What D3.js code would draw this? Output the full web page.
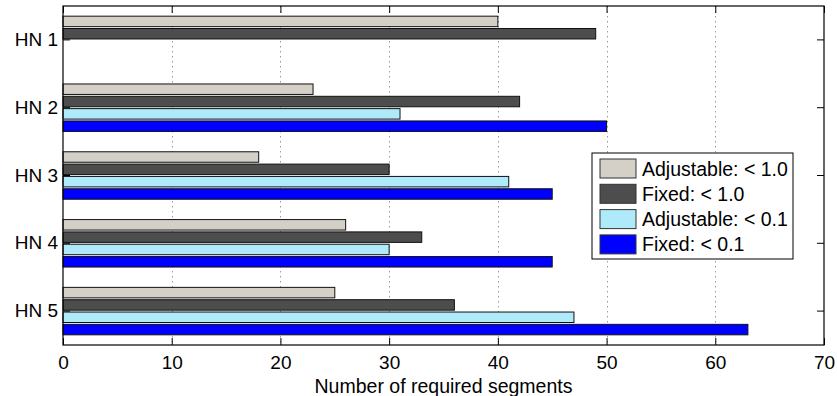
<!DOCTYPE html>
<html>
<head>
<meta charset="utf-8">
<script src="https://cdn.jsdelivr.net/npm/d3@7"></script>
<style>
  body { margin: 0; background: #fff; }
  svg { display: block; font-family: "Liberation Sans", Arial, sans-serif; }
</style>
</head>
<body>
<svg id="chart" width="837" height="396"></svg>
<script>
// data
var groups = ["HN 1", "HN 2", "HN 3", "HN 4", "HN 5"];
var seriesNames = ["Adjustable: < 1.0", "Fixed: < 1.0", "Adjustable: < 0.1", "Fixed: < 0.1"];
var adjustable10 = [40, 23, 18, 26, 25];
var fixed10 = [49, 42, 30, 33, 36];
var adjustable01 = [0, 31, 41, 30, 47];
var fixed01 = [0, 50, 45, 45, 63];
var xTicks = [0, 10, 20, 30, 40, 50, 60, 70];

var colors = ["#d4d0c8", "#4d4d4d", "#aeeafa", "#0000ff"];
var allSeries = [adjustable10, fixed10, adjustable01, fixed01];

var draw = function() {
    var svg = d3.select("#chart");
    var pLeft = 63, pRight = 824, pTop = 6, pBottom = 345;
    var tickLen = 7;

    var x = d3.scaleLinear().domain([0, 70]).range([pLeft, pRight]);
    var y = d3.scaleBand().domain(groups).range([pTop, pBottom]).paddingInner(0.3).paddingOuter(0.15);
    var inner = d3.scaleBand().domain(d3.range(4)).range([0, y.bandwidth()]).paddingInner(0.15);

    // grid
    svg.append("g").selectAll("line")
        .data(xTicks.slice(1, -1))
        .enter().append("line")
        .attr("x1", function(d) { return Math.round(x(d)) + 0.5; })
        .attr("x2", function(d) { return Math.round(x(d)) + 0.5; })
        .attr("y1", pTop).attr("y2", pBottom)
        .attr("stroke", "#9a9a9a")
        .attr("stroke-width", 1)
        .attr("stroke-dasharray", "1.5,3.5");

    // bars
    var rows = [];
    groups.forEach(function(g, i) {
        allSeries.forEach(function(s, j) {
            rows.push({ group: g, series: j, value: s[i] });
        });
    });

    svg.append("g").selectAll("rect")
        .data(rows)
        .enter().append("rect")
        .attr("x", x(0))
        .attr("y", function(d) { return y(d.group) + inner(d.series); })
        .attr("width", function(d) { return x(d.value) - x(0); })
        .attr("height", inner.bandwidth())
        .attr("fill", function(d) { return colors[d.series]; })
        .attr("stroke", "#111")
        .attr("stroke-width", 1);

    // axes box with inward ticks
    var bottomAxis = d3.axisBottom(x).tickValues(xTicks).tickSize(-tickLen).tickPadding(11);
    var topAxis = d3.axisTop(x).tickValues(xTicks).tickSize(-tickLen).tickFormat("");
    var leftAxis = d3.axisLeft(y).tickSize(-tickLen).tickPadding(5);
    var rightAxis = d3.axisRight(y).tickSize(-tickLen).tickFormat("");

    var styleAxis = function(g) {
        g.select(".domain").remove();
        g.selectAll(".tick line").attr("stroke", "#000");
        g.selectAll("text").attr("fill", "#000")
            .style("font-family", "'Liberation Sans', Arial, sans-serif")
            .style("font-size", "19px");
    };

    svg.append("g").attr("transform", "translate(0," + pBottom + ")").call(bottomAxis).call(styleAxis);
    svg.append("g").attr("transform", "translate(0," + pTop + ")").call(topAxis).call(styleAxis);
    svg.append("g").attr("transform", "translate(" + pLeft + ",0)").call(leftAxis).call(styleAxis);
    svg.append("g").attr("transform", "translate(" + pRight + ",0)").call(rightAxis).call(styleAxis);

    svg.append("rect")
        .attr("x", pLeft).attr("y", pTop)
        .attr("width", pRight - pLeft).attr("height", pBottom - pTop)
        .attr("fill", "none").attr("stroke", "#000").attr("stroke-width", 1.2);

    svg.append("text")
        .attr("x", (pLeft + pRight) / 2).attr("y", 393)
        .attr("text-anchor", "middle")
        .style("font-size", "19.5px")
        .text("Number of required segments");

    // legend
    var lg = svg.append("g").attr("transform", "translate(592,153)");
    lg.append("rect").attr("width", 201).attr("height", 106)
        .attr("fill", "#fff").attr("stroke", "#000").attr("stroke-width", 1);
    var item = lg.selectAll("g.item")
        .data(seriesNames)
        .enter().append("g").attr("class", "item")
        .attr("transform", function(d, i) { return "translate(8," + (6 + i * 25.3) + ")"; });
    item.append("rect").attr("width", 36).attr("height", 19)
        .attr("fill", function(d, i) { return colors[i]; })
        .attr("stroke", "#333").attr("stroke-width", 1);
    item.append("text").attr("x", 42).attr("y", 16.5)
        .style("font-size", "19.5px")
        .text(function(d) { return d; });
};

window.onload = draw;
</script>
</body>
</html>
